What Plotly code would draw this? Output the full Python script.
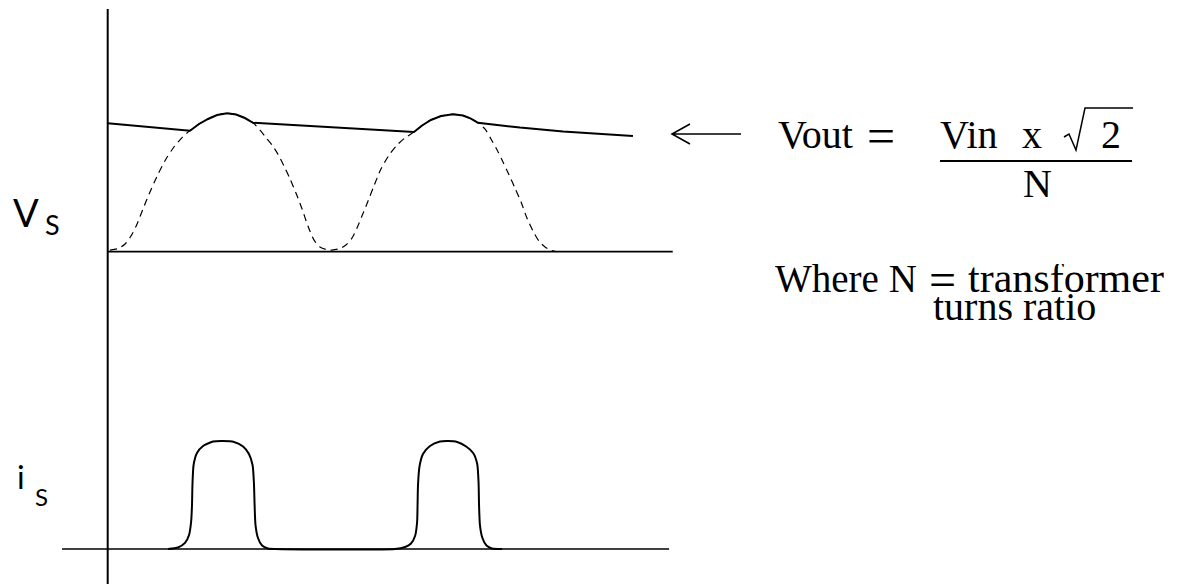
import plotly.graph_objects as go

W, H = 1179, 584

# Secondary voltage of a full-wave rectifier (time in ms, 50 Hz mains; volts per-unit)
vs_t = [0.10, 0.46, 0.77, 1.03, 1.30, 1.56, 1.87, 2.23, 2.58, 2.93,
        3.29, 3.64, 4.04, 4.44, 4.84, 5.28, 5.68, 6.07, 6.43, 6.74,
        7.00, 7.27, 7.53, 7.80, 8.07, 8.33, 8.60, 8.86, 9.13, 9.39,
        9.66, 9.92, 10.28, 10.54, 10.81, 11.03, 11.25, 11.52, 11.78, 12.09,
        12.45, 12.80, 13.15, 13.55, 13.91, 14.30, 14.75, 15.28, 15.72, 16.07,
        16.38, 16.69, 16.96, 17.23, 17.49, 17.76, 18.02, 18.29, 18.55, 18.82,
        19.08, 19.35, 19.62, 19.88]
vs_v = [0.012, 0.023, 0.056, 0.113, 0.200, 0.308, 0.430, 0.560, 0.668, 0.755,
        0.823, 0.874, 0.921, 0.957, 0.986, 0.998, 0.989, 0.964, 0.930, 0.877,
        0.823, 0.769, 0.704, 0.618, 0.524, 0.423, 0.308, 0.185, 0.084, 0.034,
        0.016, 0.012, 0.023, 0.048, 0.099, 0.171, 0.257, 0.366, 0.474, 0.596,
        0.697, 0.769, 0.820, 0.863, 0.910, 0.950, 0.978, 0.991, 0.982, 0.960,
        0.930, 0.885, 0.813, 0.733, 0.647, 0.553, 0.459, 0.358, 0.243, 0.149,
        0.077, 0.034, 0.009, 0.0]

# Smoothed output voltage: follows the peaks while the diodes conduct, decays in between
vout_t = [0.0, 3.64, 4.04, 4.44, 4.84, 5.28, 5.68, 6.07, 6.43,
          13.55, 13.91, 14.30, 14.75, 15.28, 15.72, 16.07, 16.38,
          18.24, 20.15, 21.81, 23.24]
vout_v = [0.926, 0.872, 0.921, 0.957, 0.986, 0.998, 0.989, 0.964, 0.930,
          0.863, 0.910, 0.950, 0.978, 0.991, 0.982, 0.960, 0.930,
          0.895, 0.867, 0.847, 0.834]

# Secondary current pulses (per-unit)
is_t = [2.67, 3.11, 3.42, 3.60, 3.69, 3.73, 3.75, 3.80, 3.95, 4.22,
        4.66, 5.10, 5.59, 5.99, 6.25, 6.41, 6.47, 6.50, 6.54, 6.65,
        6.83, 7.09, 7.40,
        12.71, 13.16, 13.42, 13.60, 13.69, 13.71, 13.73, 13.80, 13.95, 14.26,
        14.70, 15.06, 15.46, 15.86, 16.17, 16.35, 16.41, 16.43, 16.47, 16.58,
        16.76, 17.00, 17.45]
is_i = [0, 0.014, 0.056, 0.130, 0.250, 0.407, 0.593, 0.778, 0.889, 0.954,
        0.995, 1.0, 0.991, 0.949, 0.880, 0.778, 0.611, 0.407, 0.222, 0.102,
        0.032, 0.005, 0,
        0, 0.019, 0.051, 0.120, 0.250, 0.407, 0.593, 0.769, 0.880, 0.954,
        0.995, 1.0, 0.991, 0.949, 0.889, 0.787, 0.611, 0.407, 0.222, 0.102,
        0.032, 0.005, 0]

# Extents of the drawn axis lines (ms)
vs_axis_t = [0.0, 25.0]
is_axis_t = [-2.02, 24.84]

x_range = [-4.765, 47.40]
v_range = [-0.501, 1.815]
i_range = [-0.324, 2.109]

BLACK = "#000000"

fig = go.Figure()

# time axes
fig.add_trace(go.Scatter(x=vs_axis_t, y=[0, 0], mode="lines",
                         line=dict(color=BLACK, width=1.8), xaxis="x", yaxis="y"))
fig.add_trace(go.Scatter(x=is_axis_t, y=[0, 0], mode="lines",
                         line=dict(color=BLACK, width=1.6), xaxis="x", yaxis="y2"))

# rectified secondary voltage (dashed)
fig.add_trace(go.Scatter(x=vs_t, y=vs_v, mode="lines",
                         line=dict(color=BLACK, width=1.2, dash="7px,5px",
                                   shape="spline", smoothing=0.8),
                         xaxis="x", yaxis="y"))
# output voltage
fig.add_trace(go.Scatter(x=vout_t, y=vout_v, mode="lines",
                         line=dict(color=BLACK, width=2.0),
                         xaxis="x", yaxis="y"))
# current pulses
fig.add_trace(go.Scatter(x=is_t, y=is_i, mode="lines",
                         line=dict(color=BLACK, width=2.0, shape="spline", smoothing=0.6),
                         xaxis="x", yaxis="y2"))


def px(x):
    return x / W


def py(y):
    return 1 - y / H


shapes = [
    # vertical axis shared by both traces
    dict(type="line", xref="x", yref="paper", x0=0, x1=0, y0=0, y1=py(9),
         line=dict(color=BLACK, width=2)),
    # long left arrow
    dict(type="path", xref="paper", yref="paper",
         path=f"M {px(741)},{py(134)} L {px(672)},{py(134)} "
              f"M {px(690)},{py(124)} L {px(672)},{py(134)} L {px(690)},{py(144)}",
         line=dict(color=BLACK, width=1.6)),
    # fraction bar
    dict(type="line", xref="paper", yref="paper", x0=px(940), x1=px(1132),
         y0=py(161), y1=py(161), line=dict(color=BLACK, width=2)),
    # radical sign with its overbar
    dict(type="path", xref="paper", yref="paper",
         path=f"M {px(1064)},{py(137)} L {px(1069)},{py(134)} L {px(1076)},{py(150)} "
              f"L {px(1085)},{py(108)} L {px(1133)},{py(108)}",
         line=dict(color=BLACK, width=1.5)),
]

SERIF = "Liberation Serif"
SANS = "Lato"


def note(text, x, y, size, family, xanchor="left", height=None):
    d = dict(text=text, x=px(x), y=py(y), xref="paper", yref="paper",
             xanchor=xanchor, yanchor="middle", showarrow=False,
             font=dict(family=family, size=size, color=BLACK))
    if height is not None:
        d["height"] = height
    return d


annotations = [
    note("V", 11, 212, 38, SANS),
    note("S", 43, 225, 27, SANS),
    note("i", 15, 476, 32, SANS),
    note("S", 33, 496, 24, SANS),
    note("Vout", 776, 134.5, 40, SERIF),
    note("=", 865, 136, 50, SERIF),
    note("Vin", 938, 134.5, 40, SERIF),
    note("x", 1020, 134.5, 40, SERIF),
    note("2", 1099, 134.5, 40, SERIF),
    note("N", 1037, 184, 40, SERIF, xanchor="center"),
    note("Where N", 773, 278, 39, SERIF, height=28),
    note("=", 927, 279, 48, SERIF, height=28),
    note("transformer", 966, 278, 42, SERIF, height=28),
    note("turns ratio", 931, 306, 40, SERIF, height=28),
]

axis_common = dict(visible=False, showgrid=False, zeroline=False, fixedrange=True)

fig.update_layout(
    width=W, height=H,
    margin=dict(l=0, r=0, t=0, b=0),
    paper_bgcolor="white", plot_bgcolor="white",
    showlegend=False,
    xaxis=dict(range=x_range, domain=[0, 1], **axis_common),
    yaxis=dict(range=v_range, domain=[0.45, 1], **axis_common),
    yaxis2=dict(range=i_range, domain=[0, 0.45], anchor="x", **axis_common),
    shapes=shapes,
    annotations=annotations,
)

fig.write_html("out.html", config={"displayModeBar": False})
